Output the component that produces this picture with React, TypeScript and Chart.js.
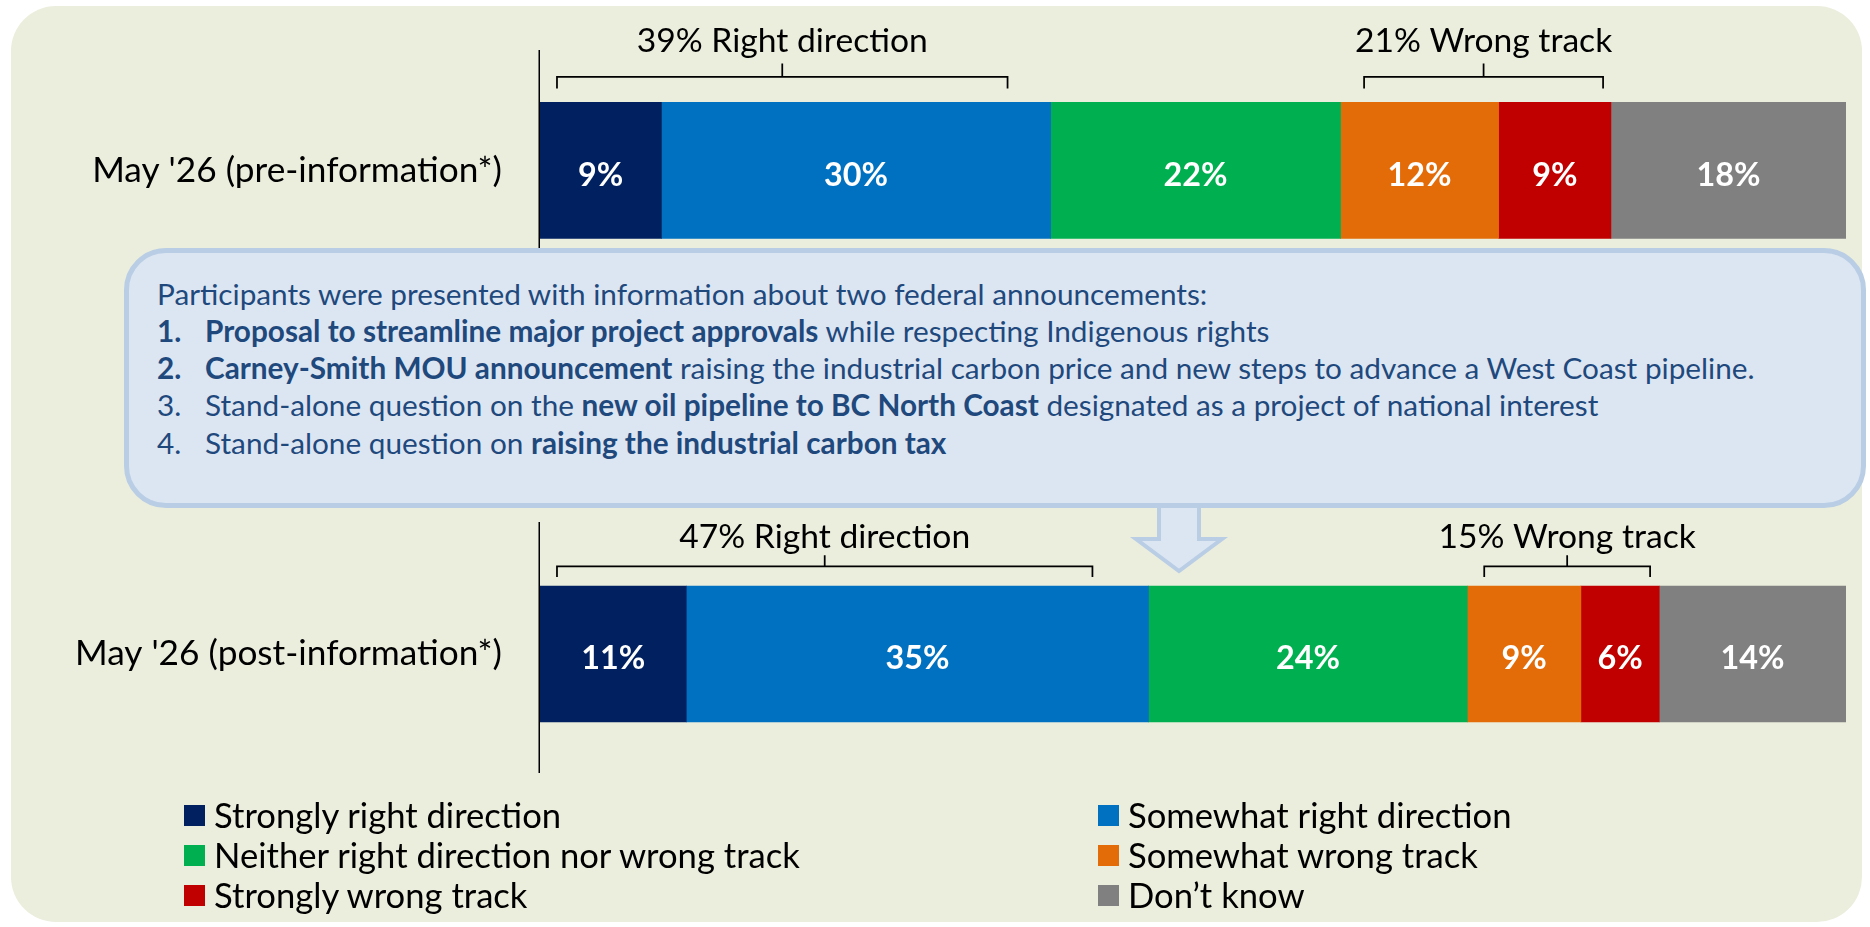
import React, { useEffect, useMemo, useRef } from "react";
import { Chart, registerables } from "chart.js";

Chart.register(...registerables);

const FONT = "Lato, 'Open Sans', 'Noto Sans', sans-serif";

// ---------- data ----------
const rowLabels = ["May '26 (pre-information*)", "May '26 (post-information*)"];
const seriesNames = [
  "Strongly right direction",
  "Somewhat right direction",
  "Neither right direction nor wrong track",
  "Somewhat wrong track",
  "Strongly wrong track",
  "Don\u2019t know",
];
const seriesColors = ["#002060", "#0070C0", "#00B050", "#E36C09", "#C00000", "#808080"];
const strongRight = [9.3, 11.2];
const somewhatRight = [29.8, 35.4];
const neither = [22.2, 24.4];
const somewhatWrong = [12.1, 8.7];
const strongWrong = [8.6, 6.0];
const dontKnow = [18.0, 14.3];
const seriesValues = [strongRight, somewhatRight, neither, somewhatWrong, strongWrong, dontKnow];
const xRange = [0, 100];

// bracket spans on the percentage axis
const rightBracketSpans = [[1.3, 35.8], [1.3, 42.3]];
const wrongBracketSpans = [[63.1, 81.4], [72.3, 85.0]];

// info box text
const infoIntro = "Participants were presented with information about two federal announcements:";
const infoNumbers = ["1.", "2.", "3.", "4."];
const infoNumberBold = [true, true, false, false];
const infoParts: [string, boolean][][] = [
  [["Proposal to streamline major project approvals", true], [" while respecting Indigenous rights", false]],
  [["Carney-Smith MOU announcement", true], [" raising the industrial carbon price and new steps to advance a West Coast pipeline.", false]],
  [["Stand-alone question on the ", false], ["new oil pipeline to BC North Coast", true], [" designated as a project of national interest", false]],
  [["Stand-alone question on ", false], ["raising the industrial carbon tax", true]],
];

// ---------- layout (pixels) ----------
const W = 1870;
const H = 927;
const bracketGeom = [
  { line: 25.6, down: 11.6, up: 13.4, label: 50.6 },
  { line: 19.7, down: 10.7, up: 11.0, label: 37.7 },
];

function fitFont(text: string, weight: number, target: number): number {
  const ctx = document.createElement("canvas").getContext("2d") as CanvasRenderingContext2D;
  ctx.font = `${weight} 100px ${FONT}`;
  const w = ctx.measureText(text).width;
  return (target / w) * 100;
}

export default function App() {
  const canvasRef = useRef<HTMLCanvasElement>(null);
  const sizes = useMemo(
    () => ({
      cat: fitFont(rowLabels[0], 400, 410),
      bracket: fitFont("39% Right direction", 400, 291),
      value: fitFont("30%", 700, 64),
      info: fitFont(infoIntro, 400, 1052),
      legend: fitFont(seriesNames[2], 400, 588),
    }),
    []
  );

  useEffect(() => {
    const canvas = canvasRef.current;
    if (!canvas) return;
    const rowPos = rowLabels.map((_, i) => i + 1);
    const half = 68;

    const overlay = {
      id: "overlay",
      afterDatasetsDraw(chart: any) {
        const ctx: CanvasRenderingContext2D = chart.ctx;
        const xs = chart.scales.x;
        const ys = chart.scales.y;
        const area = chart.chartArea;
        ctx.save();
        // value labels
        ctx.fillStyle = "#ffffff";
        ctx.font = `700 ${sizes.value}px ${FONT}`;
        ctx.textAlign = "center";
        ctx.textBaseline = "alphabetic";
        chart.data.datasets.forEach((_: any, di: number) => {
          chart.getDatasetMeta(di).data.forEach((el: any, i: number) => {
            const p = el.getCenterPoint();
            ctx.fillText(Math.round(seriesValues[di][i]) + "%", p.x, p.y + sizes.value * 0.36 + 3.5);
          });
        });
        // axis line segments
        ctx.strokeStyle = "#000";
        ctx.lineWidth = 1.5;
        const ax = area.left - 0.75;
        const y1 = ys.getPixelForValue(rowPos[0]);
        const y2 = ys.getPixelForValue(rowPos[1]);
        ctx.beginPath();
        ctx.moveTo(ax, area.top);
        ctx.lineTo(ax, y1 + 120);
        ctx.moveTo(ax, y2 - 132);
        ctx.lineTo(ax, area.bottom);
        ctx.stroke();
        // brackets
        ctx.lineWidth = 1.75;
        ctx.fillStyle = "#000";
        ctx.font = `400 ${sizes.bracket}px ${FONT}`;
        rowPos.forEach((rp, i) => {
          const top = ys.getPixelForValue(rp) - half;
          const g = bracketGeom[i];
          const spans = [rightBracketSpans[i], wrongBracketSpans[i]];
          const texts = [
            `${Math.round(strongRight[i] + somewhatRight[i])}% Right direction`,
            `${Math.round(somewhatWrong[i] + strongWrong[i])}% Wrong track`,
          ];
          spans.forEach((sp, k) => {
            const a = xs.getPixelForValue(sp[0]);
            const b = xs.getPixelForValue(sp[1]);
            const m = (a + b) / 2;
            const ly = top - g.line;
            ctx.beginPath();
            ctx.moveTo(a, ly + g.down);
            ctx.lineTo(a, ly);
            ctx.lineTo(b, ly);
            ctx.lineTo(b, ly + g.down);
            ctx.moveTo(m, ly);
            ctx.lineTo(m, ly - g.up);
            ctx.stroke();
            ctx.fillText(texts[k], m, top - g.label);
          });
        });
        ctx.restore();
      },
    };

    const chart = new Chart(canvas, {
      type: "bar",
      data: {
        datasets: seriesValues.map((vals, di) => ({
          label: seriesNames[di],
          data: vals.map((v, i) => ({ x: v, y: rowPos[i] })),
          backgroundColor: seriesColors[di],
          borderWidth: 0,
          barThickness: 136,
        })),
      },
      options: {
        indexAxis: "y",
        responsive: false,
        animation: false,
        devicePixelRatio: 1,
        events: [],
        layout: { padding: { top: 50, bottom: 154, left: 0, right: 24 } },
        plugins: { legend: { display: false }, tooltip: { enabled: false } },
        scales: {
          x: { type: "linear", stacked: true, min: xRange[0], max: xRange[1], display: false },
          y: {
            type: "linear",
            stacked: true,
            reverse: true,
            offset: false,
            min: 0.751,
            max: 2.246,
            afterBuildTicks: (s: any) => {
              s.ticks = rowPos.map((v) => ({ value: v }));
            },
            afterFit: (s: any) => {
              s.width = 540;
              s.paddingTop = 0;
              s.paddingBottom = 0;
            },
            grid: { display: false, drawTicks: false, offset: false },
            border: { display: false },
            ticks: {
              autoSkip: false,
              padding: 38,
              color: "#000",
              font: { family: FONT, size: sizes.cat, weight: "normal" },
              callback: (v: any) => rowLabels[Number(v) - 1] ?? "",
            },
          },
        },
      } as any,
      plugins: [overlay],
    });
    return () => chart.destroy();
  }, [sizes]);

  const infoColor = "#1F497D";
  const infoTop = 293.8;
  const infoStep = 37.2;

  return (
    <div style={{ position: "absolute", left: 0, top: 0, width: W, height: H, background: "#fff", overflow: "hidden", fontFamily: FONT }}>
      <div style={{ position: "absolute", left: 11, top: 6, width: 1851, height: 916, background: "#EBEEDD", borderRadius: 45 }} />
      <canvas ref={canvasRef} width={W} height={H} style={{ position: "absolute", left: 0, top: 0, width: W, height: H }} />
      <div
        style={{
          position: "absolute",
          left: 124,
          top: 248,
          width: 1742,
          height: 260,
          boxSizing: "border-box",
          border: "5px solid #B9CDE5",
          borderRadius: 42,
          background: "#DCE6F2",
        }}
      />
      <svg width={W} height={H} style={{ position: "absolute", left: 0, top: 0, pointerEvents: "none" }}>
        <polygon
          points="1159,506 1199,506 1199,539 1222,539 1179,571 1136,539 1159,539"
          fill="#DCE6F2"
          stroke="#B9CDE5"
          strokeWidth={4}
          strokeLinejoin="miter"
        />
      </svg>
      {/* info text */}
      <div
        style={{
          position: "absolute",
          left: 157,
          top: infoTop - 20,
          height: 40,
          lineHeight: "40px",
          whiteSpace: "nowrap",
          color: infoColor,
          fontSize: sizes.info,
        }}
      >
        {infoIntro}
      </div>
      {infoParts.map((parts, i) => (
        <div
          key={i}
          style={{
            position: "absolute",
            left: 157,
            top: infoTop + infoStep * (i + 1) - 20,
            height: 40,
            lineHeight: "40px",
            whiteSpace: "nowrap",
            color: infoColor,
            fontSize: sizes.info,
          }}
        >
          <span style={{ display: "inline-block", width: 48, fontWeight: infoNumberBold[i] ? 700 : 400 }}>{infoNumbers[i]}</span>
          {parts.map(([t, b], k) => (
            <span key={k} style={{ fontWeight: b ? 700 : 400, whiteSpace: "pre" }}>
              {t}
            </span>
          ))}
        </div>
      ))}
      {/* legend */}
      {seriesNames.map((name, i) => {
        const col = i % 2;
        const row = Math.floor(i / 2);
        const left = col === 0 ? 184 : 1098;
        const cy = 815 + row * 40;
        return (
          <div
            key={name}
            style={{
              position: "absolute",
              left,
              top: cy - 20,
              height: 40,
              display: "flex",
              alignItems: "center",
              whiteSpace: "nowrap",
              color: "#000",
              fontSize: sizes.legend,
            }}
          >
            <span style={{ display: "inline-block", width: 21, height: 21, background: seriesColors[i], marginRight: 9 }} />
            <span style={{ lineHeight: "40px" }}>{name}</span>
          </div>
        );
      })}
    </div>
  );
}
